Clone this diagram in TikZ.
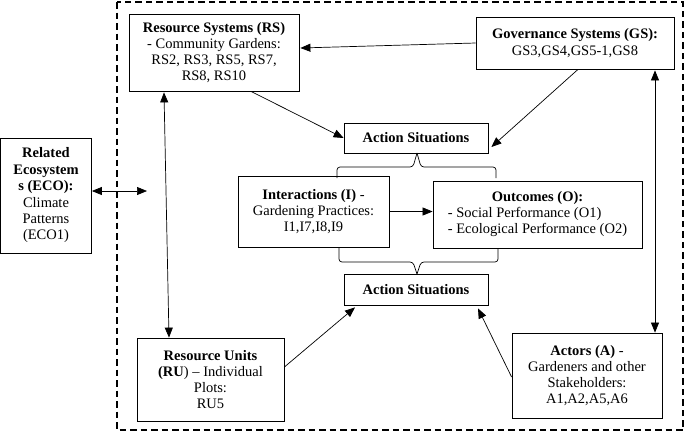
\documentclass[tikz,border=0pt]{standalone}
\usepackage{fontspec}
\setmainfont{Liberation Serif}
\usetikzlibrary{arrows.meta}
\begin{document}
\begin{tikzpicture}[
    x=1pt, y=-1pt,
    every node/.style={align=center, font=\fontsize{14.5}{16.2}\selectfont, inner sep=0pt},
    box/.style={draw, line width=0.8pt},
    link/.style={line width=0.7pt, -{Triangle[length=10pt,width=8pt]}},
    twolink/.style={line width=0.7pt, {Triangle[length=10pt,width=8pt]}-{Triangle[length=10pt,width=8pt]}},
    brace/.style={line width=0.7pt, rounded corners=3pt}
  ]
  \useasboundingbox (0,0) rectangle (685,432);
  \draw[line width=1.8pt, dash pattern=on 6.5pt off 4pt] (117,2) rectangle (683,430);
  \node[box, minimum width=170pt, minimum height=77pt] (RS) at (214,52.5)
    {\textbf{Resource Systems (RS)}\\- Community Gardens:\\RS2, RS3, RS5, RS7,\\RS8, RS10};
  \node[box, minimum width=198pt, minimum height=52pt] (GS) at (575,43)
    {\textbf{Governance Systems (GS):}\\GS3,GS4,GS5-1,GS8};
  \node[box, minimum width=91pt, minimum height=115pt, font=\fontsize{14.5}{16.4}\selectfont] (ECO) at (46,195.5)
    {\textbf{Related}\\\textbf{Ecosystem}\\\textbf{s (ECO):}\\Climate\\Patterns\\(ECO1)};
  \coordinate (ECOend) at (147,191);
  \node[box, minimum width=144pt, minimum height=30pt] (ASt) at (416,138) {\textbf{Action Situations}};
  \node[box, minimum width=151pt, minimum height=71pt] (I) at (313.5,211.5)
    {\textbf{Interactions (I)} -\\Gardening Practices:\\I1,I7,I8,I9};
  \node[box, minimum width=209pt, minimum height=67pt] (O) at (537.5,214.5)
    {\begin{tabular}{@{}l@{}}\multicolumn{1}{@{}c@{}}{\textbf{Outcomes (O):}}\\- Social Performance (O1)\\- Ecological Performance (O2)\end{tabular}};
  \node[box, minimum width=144pt, minimum height=31pt] (ASb) at (416,289.5) {\textbf{Action Situations}};
  \node[box, minimum width=147pt, minimum height=83pt] (RU) at (210.5,379.5)
    {\textbf{Resource Units}\\\textbf{(RU}) -- Individual\\Plots:\\RU5};
  \node[box, minimum width=150pt, minimum height=85pt] (A) at (587,375.5)
    {\textbf{Actors (A)} -\\Gardeners and other\\Stakeholders:\\A1,A2,A5,A6};
  \draw[link] (GS.west) -- ([xshift=1pt,yshift=4.5pt]RS.east);
  \draw[link] ([xshift=37pt]RS.south) -- (ASt.west);
  \draw[link] ([xshift=3pt]GS.south) -- ([xshift=3pt,yshift=-9pt]ASt.east);
  \draw[twolink] ([xshift=-50pt,yshift=-1pt]RS.south) -- ([xshift=-41.5pt]RU.north);
  \draw[twolink] ([yshift=4.5pt]ECO.east) -- (ECOend);
  \draw[link] (I.east) -- (I.east -| O.west);
  \draw[twolink] ([xshift=80pt,yshift=-1pt]GS.south) -- ([xshift=68pt]A.north);
  \draw[link] ([yshift=12.5pt]RU.east) -- ([xshift=-61pt,yshift=-2pt]ASb.south);
  \draw[link] ([yshift=-1.5pt]A.west) -- ([xshift=62pt,yshift=-3pt]ASb.south);
  \draw[brace] (337,178) |- (413,167) -- (417,153);
  \draw[brace] (496,178) |- (421,167) -- (417,153);
  \draw[brace] (339,248) |- (413,262) -- (417,274);
  \draw[brace] (498,248) |- (421,262) -- (417,274);
\end{tikzpicture}
\end{document}
